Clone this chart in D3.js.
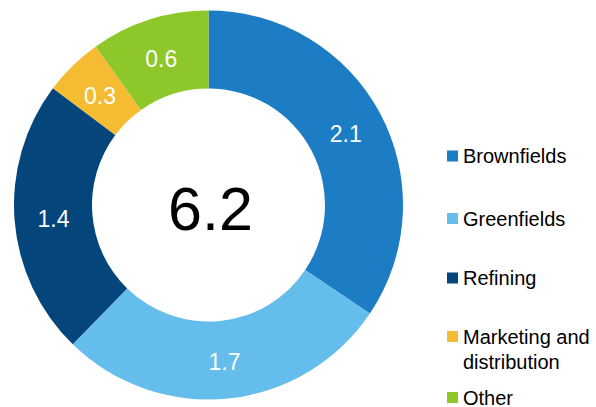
<!DOCTYPE html>
<html>
<head>
<meta charset="utf-8">
<script src="https://cdn.jsdelivr.net/npm/d3@7"></script>
<style>
  html, body { margin: 0; padding: 0; background: #fff; }
  text { font-family: "Liberation Sans", Arial, sans-serif; }
</style>
</head>
<body>
<div id="chart"></div>
<script>
const categories = ["Brownfields", "Greenfields", "Refining", "Marketing and distribution", "Other"];
const values = [2.1, 1.7, 1.4, 0.3, 0.6];
const colors = ["#1c7dc4", "#64bdea", "#04457b", "#f5bc33", "#8dc72a"];
const totalLabel = "6.2";
const legendLines = [["Brownfields"], ["Greenfields"], ["Refining"], ["Marketing and", "distribution"], ["Other"]];

const width = 596, height = 407;
const cx = 208.5, cy = 205, outerR = 194.5, innerR = 116.5;

const svg = d3.select("#chart")
    .append("svg")
    .attr("width", width)
    .attr("height", height);

const g = svg.append("g")
    .attr("transform", `translate(${cx},${cy})`);

const pie = d3.pie().sort(null).value(d => d.value);
const arc = d3.arc().innerRadius(innerR).outerRadius(outerR);

const data = categories.map((c, i) => ({ name: c, value: values[i], color: colors[i] }));
const arcs = pie(data);

g.selectAll("path.slice")
    .data(arcs)
    .enter()
    .append("path")
    .attr("class", "slice")
    .attr("d", arc)
    .attr("fill", d => d.data.color);

g.selectAll("text.val")
    .data(arcs)
    .enter()
    .append("text")
    .attr("class", "val")
    .attr("transform", d => `translate(${arc.centroid(d)})`)
    .attr("text-anchor", "middle")
    .attr("dy", "0.45em")
    .attr("fill", "#fff")
    .style("font-size", "23px")
    .text(d => d3.format(".1f")(d.data.value));

g.append("text")
    .attr("x", 2)
    .attr("y", 25)
    .attr("text-anchor", "middle")
    .attr("fill", "#000")
    .style("font-size", "61px")
    .text(totalLabel);

// legend
const legendY = [150.5, 213, 272.5, 331, 392];
const legend = svg.append("g").attr("class", "legend");
legendLines.forEach((lines, i) => {
    legend.append("rect")
        .attr("x", 447)
        .attr("y", legendY[i])
        .attr("width", 11)
        .attr("height", 11)
        .attr("fill", colors[i]);
    const t = legend.append("text")
        .attr("x", 463)
        .attr("y", legendY[i] + 12.5)
        .attr("fill", "#000")
        .style("font-size", "20px");
    lines.forEach((l, j) => {
        t.append("tspan")
            .attr("x", 463)
            .attr("dy", j === 0 ? 0 : 25)
            .text(l);
    });
});
</script>
</body>
</html>
